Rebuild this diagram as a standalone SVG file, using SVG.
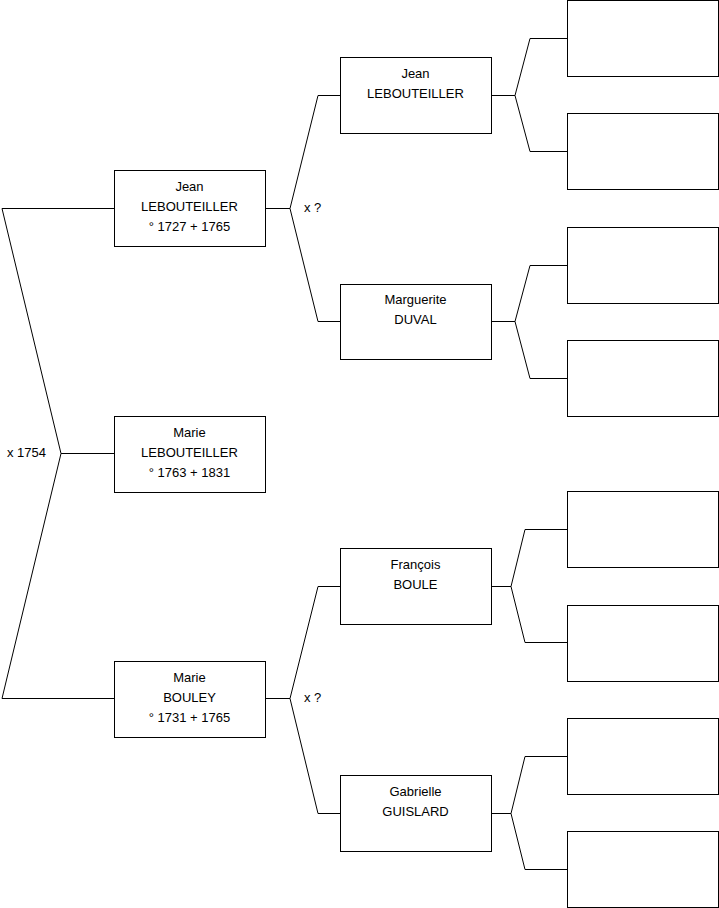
<svg xmlns="http://www.w3.org/2000/svg" width="719" height="908" viewBox="0 0 719 908">
<style>
.b{fill:#fff;stroke:#000;stroke-width:1}
.c{fill:none;stroke:#000;stroke-width:1}
text{font-family:"Liberation Sans",Arial,sans-serif;font-size:13px;fill:#000}
.m{text-anchor:middle}
</style>
<rect width="719" height="908" fill="#fff"/>
<g id="connectors">
<path class="c" d="M114,208.5 H2 L61,453.5 L2,698.5 H114 M61,453.5 H114"/>
<path class="c" d="M265,208.5 H290 L318,95.5 H340 M290,208.5 L318,321.5 H340"/>
<path class="c" d="M265,698.5 H290 L318,586.5 H340 M290,698.5 L318,813.5 H340"/>
<path class="c" d="M491,95.5 H515 L530,38.5 H567 M515,95.5 L530,151.5 H567"/>
<path class="c" d="M491,321.5 H515 L530,265.5 H567 M515,321.5 L530,378.5 H567"/>
<path class="c" d="M491,586.5 H511 L525,529.5 H567 M511,586.5 L525,642.5 H567"/>
<path class="c" d="M491,813.5 H511 L525,756.5 H567 M511,813.5 L525,869.5 H567"/>
<text x="7" y="456.5">x 1754</text>
<text x="304" y="211.5">x ?</text>
<text x="304" y="701.5">x ?</text>
</g>
<g id="n-jean1">
<rect class="b" x="114.5" y="170.5" width="151" height="76"/>
<text class="m" x="189.5" y="190.5">Jean</text>
<text class="m" x="189.5" y="210.5">LEBOUTEILLER</text>
<text class="m" x="189.5" y="230.5">° 1727 + 1765</text>
</g>
<g id="n-marie-leb">
<rect class="b" x="114.5" y="416.5" width="151" height="76"/>
<text class="m" x="189.5" y="436.5">Marie</text>
<text class="m" x="189.5" y="456.5">LEBOUTEILLER</text>
<text class="m" x="189.5" y="476.5">° 1763 + 1831</text>
</g>
<g id="n-marie-bouley">
<rect class="b" x="114.5" y="661.5" width="151" height="76"/>
<text class="m" x="189.5" y="681.5">Marie</text>
<text class="m" x="189.5" y="701.5">BOULEY</text>
<text class="m" x="189.5" y="721.5">° 1731 + 1765</text>
</g>
<g id="n-jean2">
<rect class="b" x="340.5" y="57.5" width="151" height="76"/>
<text class="m" x="415.5" y="77.5">Jean</text>
<text class="m" x="415.5" y="97.5">LEBOUTEILLER</text>
</g>
<g id="n-marguerite">
<rect class="b" x="340.5" y="284.5" width="151" height="75"/>
<text class="m" x="415.5" y="303.5">Marguerite</text>
<text class="m" x="415.5" y="323.5">DUVAL</text>
</g>
<g id="n-francois">
<rect class="b" x="340.5" y="548.5" width="151" height="76"/>
<text class="m" x="415.5" y="568.5">François</text>
<text class="m" x="415.5" y="588.5">BOULE</text>
</g>
<g id="n-gabrielle">
<rect class="b" x="340.5" y="775.5" width="151" height="76"/>
<text class="m" x="415.5" y="795.5">Gabrielle</text>
<text class="m" x="415.5" y="815.5">GUISLARD</text>
</g>
<g id="n-g3-1"><rect class="b" x="567.5" y="0.5" width="151" height="76"/></g>
<g id="n-g3-2"><rect class="b" x="567.5" y="113.5" width="151" height="76"/></g>
<g id="n-g3-3"><rect class="b" x="567.5" y="227.5" width="151" height="76"/></g>
<g id="n-g3-4"><rect class="b" x="567.5" y="340.5" width="151" height="76"/></g>
<g id="n-g3-5"><rect class="b" x="567.5" y="491.5" width="151" height="76"/></g>
<g id="n-g3-6"><rect class="b" x="567.5" y="605.5" width="151" height="76"/></g>
<g id="n-g3-7"><rect class="b" x="567.5" y="718.5" width="151" height="76"/></g>
<g id="n-g3-8"><rect class="b" x="567.5" y="831.5" width="151" height="76"/></g>
</svg>
